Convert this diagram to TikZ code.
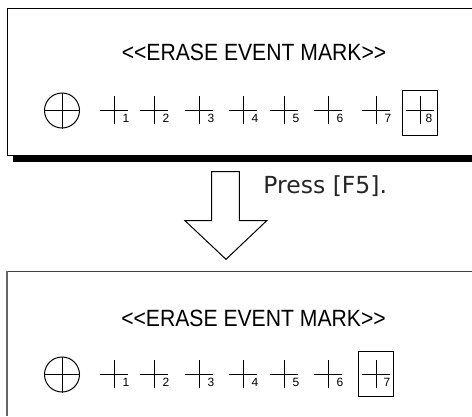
\documentclass[tikz,border=0pt]{standalone}
\usepackage{fontspec}
\setmainfont{Liberation Sans}
\newfontfamily\pressfont{DejaVu Sans}
\begin{document}
\begin{tikzpicture}[x=1pt,y=-1pt,line width=0.9pt,
  ttl/.style={inner sep=0pt,font=\fontsize{23.5}{28}\selectfont},
  num/.style={inner sep=0pt,font=\fontsize{12}{14}\selectfont},
  selbox/.style={draw,line width=1pt,minimum width=35pt,minimum height=45pt,inner sep=0pt},
  ringmark/.style={draw,circle,line width=1pt,minimum size=35pt,inner sep=0pt},
  crossln/.style={line width=1pt}]
\useasboundingbox (0,0) rectangle (472,416);
\fill[white] (0,0) rectangle (472,416);

% ---------- top panel ----------
\draw[line width=1pt] (472,8) -- (7,8) -- (7,155) -- (472,155);
\fill[black] (13,155.5) rectangle (472,161.5);
\node[ttl] (t1) at (254,52) {\scalebox{0.9}[1]{<\kern0pt<ERASE EVENT MARK>\kern0pt>}};
\node[ringmark] (c1) at (62,110.5) {};
\draw[crossln] (c1.north) -- (c1.south) (c1.west) -- (c1.east);
\foreach \v [count=\i] in {114,154,199,243,284,328,376,420}{
  \draw[crossln] (\v-14,110) -- (\v+14,110) (\v,96) -- (\v,124);
}
\foreach \v [count=\i] in {114,154,199,243,284,328,376}{
  \node[num] (ta\i) at (\v+12,118.5) {\i};
}
\node[num] (ta8) at (429,118) {8};
\node[selbox] (sel1) at (419.5,112.5) {};

% ---------- arrow ----------
\draw[line width=1pt,fill=white] (211.7,171.7) -- (239.3,171.7) -- (239.3,220.7) -- (266.7,220.7)
  -- (226,259.3) -- (185,220.7) -- (211.7,220.7) -- cycle;
\node[inner sep=0pt,anchor=base west,text=black!85,font=\pressfont\fontsize{23.5}{28}\selectfont]
  (press) at (263,193.5) {Press [F5].};

% ---------- bottom panel ----------
\draw[line width=0.8pt,black!75] (472,271) -- (7,271);
\draw[line width=1.6pt,black!60] (7,270.6) -- (7,416);
\node[ttl] (t2) at (253.5,318) {\scalebox{0.9}[1]{<\kern0pt<ERASE EVENT MARK>\kern0pt>}};
\node[ringmark] (c2) at (62,374.5) {};
\draw[crossln] (c2.north) -- (c2.south) (c2.west) -- (c2.east);
\foreach \v [count=\i] in {114,154,199,243,284,328,376}{
  \draw[crossln] (\v-14,374) -- (\v+14,374) (\v,360) -- (\v,388);
}
\foreach \v [count=\i] in {114,154,199,243,284,328}{
  \node[num] (ba\i) at (\v+12,382.5) {\i};
}
\node[num] (ba7) at (387,382) {7};
\node[selbox] (sel2) at (376.2,374.2) {};
\end{tikzpicture}
\end{document}
